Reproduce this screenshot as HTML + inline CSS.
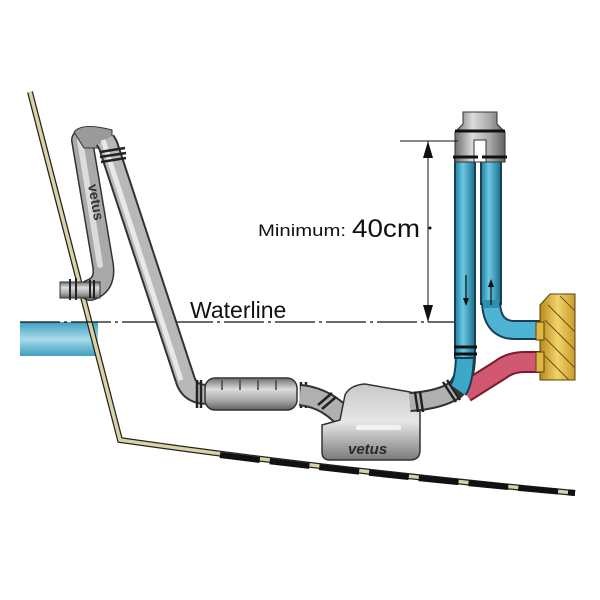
<!DOCTYPE html>
<html><head><style>html,body{margin:0;padding:0;background:#fff}svg{display:block}</style></head>
<body>
<svg width="600" height="600" viewBox="0 0 600 600" xmlns="http://www.w3.org/2000/svg">
<defs>
<linearGradient id="gv" x1="0" x2="1" y1="0" y2="0"><stop offset="0" stop-color="#6e6e70"/><stop offset="0.35" stop-color="#dcdcdc"/><stop offset="0.7" stop-color="#a8a8aa"/><stop offset="1" stop-color="#606062"/></linearGradient>
<linearGradient id="gh" x1="0" x2="0" y1="0" y2="1"><stop offset="0" stop-color="#6e6e70"/><stop offset="0.35" stop-color="#dcdcdc"/><stop offset="0.7" stop-color="#a8a8aa"/><stop offset="1" stop-color="#606062"/></linearGradient>
<linearGradient id="bv" x1="0" x2="1"><stop offset="0" stop-color="#1f7e9e"/><stop offset="0.4" stop-color="#6cc8e2"/><stop offset="1" stop-color="#1a6f8d"/></linearGradient>
<linearGradient id="bh" x1="0" x2="0" y1="0" y2="1"><stop offset="0" stop-color="#1f7e9e"/><stop offset="0.4" stop-color="#6cc8e2"/><stop offset="1" stop-color="#1a6f8d"/></linearGradient>
<linearGradient id="wt" x1="0" x2="0" y1="0" y2="1"><stop offset="0" stop-color="#3d9fbf"/><stop offset="0.5" stop-color="#a9dbe9"/><stop offset="1" stop-color="#3d9fbf"/></linearGradient>
<linearGradient id="gold" x1="0" x2="1"><stop offset="0" stop-color="#b88a1c"/><stop offset="0.5" stop-color="#f3d36a"/><stop offset="1" stop-color="#c99b2a"/></linearGradient>
<linearGradient id="box" x1="0" x2="0" y1="0" y2="1"><stop offset="0" stop-color="#c8c8ca"/><stop offset="0.5" stop-color="#e6e6e6"/><stop offset="1" stop-color="#7a7a7c"/></linearGradient>
</defs>

<!-- water -->
<rect x="20" y="322" width="78" height="34" fill="url(#wt)"/>

<!-- hull -->
<path d="M30 92 L120 440 Q330 470 575 493" fill="none" stroke="#222" stroke-width="6"/>
<path d="M30 92 L120 440 Q330 470 575 493" fill="none" stroke="#d9d2a6" stroke-width="3.5"/>
<path d="M220 455 Q400 478 575 493" fill="none" stroke="#111" stroke-width="6" stroke-dasharray="40 10"/>

<!-- waterline -->
<path d="M20 322 H460" stroke="#111" stroke-width="1.2" stroke-dasharray="40 4 3 4"/>

<!-- left waterlock tube -->
<path d="M82 140 L103 265 Q106 285 90 290" fill="none" stroke="#333" stroke-width="22" stroke-linecap="round"/>
<path d="M82 140 L103 265 Q106 285 90 290" fill="none" stroke="#a9a9ab" stroke-width="19" stroke-linecap="round"/>
<path d="M80 140 L100 265" fill="none" stroke="#dcdcdc" stroke-width="6" stroke-linecap="round"/>
<rect x="60" y="282" width="40" height="16" fill="url(#gh)" stroke="#333"/>
<g stroke="#222" stroke-width="2"><line x1="70" y1="279" x2="70" y2="300"/><line x1="76" y1="278" x2="76" y2="300"/><line x1="90" y1="280" x2="90" y2="298"/><line x1="94" y1="280" x2="94" y2="298"/></g>
<path d="M74 132 Q82 122 112 130 L112 148 L84 148 Z" fill="#9a9a9c" stroke="#333"/>
<!-- main riser -->
<path d="M105 140 L108 145 L186 382 Q192 396 210 394" fill="none" stroke="#333" stroke-width="21" stroke-linejoin="round"/>
<path d="M105 140 L108 145 L186 382 Q192 396 210 394" fill="none" stroke="#b8b8ba" stroke-width="17" stroke-linejoin="round"/>
<path d="M103 140 L181 380" stroke="#e8e8e8" stroke-width="5"/>
<g stroke="#222" stroke-width="2.5"><line x1="100" y1="152" x2="125" y2="148"/><line x1="100" y1="157" x2="126" y2="153"/><line x1="101" y1="162" x2="126" y2="158"/></g>
<text x="0" y="0" transform="translate(88,185) rotate(80)" font-family="Liberation Sans, sans-serif" font-weight="bold" font-size="14" fill="#333">vetus</text>

<!-- bellows silencer -->
<rect x="205" y="378" width="92" height="32" rx="10" fill="url(#gh)" stroke="#333" stroke-width="1.5"/>
<g stroke="#444" stroke-width="1.5"><line x1="222" y1="380" x2="222" y2="390"/><line x1="240" y1="380" x2="240" y2="390"/><line x1="258" y1="380" x2="258" y2="390"/><line x1="276" y1="380" x2="276" y2="390"/></g>
<g stroke="#222" stroke-width="2.5"><line x1="197" y1="380" x2="197" y2="408"/><line x1="201" y1="380" x2="201" y2="408"/><line x1="301" y1="382" x2="301" y2="408"/><line x1="306" y1="382" x2="306" y2="408"/></g>
<path d="M300 395 Q330 398 350 425" fill="none" stroke="#333" stroke-width="22"/>
<path d="M300 395 Q330 398 350 425" fill="none" stroke="#b0b0b2" stroke-width="18"/>
<g stroke="#222" stroke-width="2.5"><line x1="318" y1="405" x2="332" y2="393"/><line x1="322" y1="409" x2="336" y2="397"/></g>

<!-- waterlock box -->
<path d="M345 395 Q350 385 365 384 L410 392 L420 400 L420 450 Q420 460 410 460 L330 460 Q322 460 322 452 L322 425 L340 420 Z" fill="url(#box)" stroke="#333" stroke-width="1.5"/>
<rect x="356" y="425" width="45" height="5" rx="2" fill="#f2f2f2"/>
<text x="348" y="454" font-family="Liberation Sans, sans-serif" font-weight="bold" font-style="italic" font-size="15" fill="#2a2a2a">vetus</text>

<path d="M410 402 Q440 400 455 390 Q466 380 466 355" fill="none" stroke="#333" stroke-width="20"/>
<path d="M410 402 Q440 400 455 390" fill="none" stroke="#b0b0b2" stroke-width="16"/>
<g stroke="#222" stroke-width="2.5"><line x1="415" y1="392" x2="418" y2="412"/><line x1="420" y1="392" x2="423" y2="412"/><line x1="443" y1="382" x2="456" y2="402"/><line x1="447" y1="380" x2="460" y2="400"/></g>

<!-- red exhaust -->
<path d="M465 392 L500 370 Q510 362 525 362 L545 362" fill="none" stroke="#7a1a2a" stroke-width="22"/>
<path d="M465 392 L500 370 Q510 362 525 362 L545 362" fill="none" stroke="#d05870" stroke-width="18"/>

<!-- blue pipes -->
<path d="M465 350 Q465 380 458 390" fill="none" stroke="#173f55" stroke-width="20"/>
<path d="M465 350 Q465 380 458 390" fill="none" stroke="#3ea8c8" stroke-width="16"/>
<rect x="455" y="158" width="20" height="200" fill="url(#bv)" stroke="#173f55" stroke-width="2"/>
<path d="M491 300 Q491 330 515 330 L545 330" fill="none" stroke="#173f55" stroke-width="20"/>
<path d="M491 300 Q491 330 515 330 L545 330" fill="none" stroke="#4fb3d3" stroke-width="16"/>
<rect x="481" y="158" width="20" height="146" fill="url(#bv)" stroke="#173f55" stroke-width="2"/>
<rect x="483" y="300" width="16" height="8" fill="#2f8fb0"/>
<path d="M466 275 V300" stroke="#111" stroke-width="1.2"/><path d="M463 298 L466 306 L469 298 Z" fill="#111"/>
<path d="M491 285 V305" stroke="#111" stroke-width="1.2"/><path d="M488 287 L491 279 L494 287 Z" fill="#111"/>
<g stroke="#111" stroke-width="3"><line x1="454" y1="347" x2="477" y2="347"/><line x1="454" y1="354" x2="477" y2="354"/></g>

<!-- top fitting -->
<path d="M463 112 H497 V124 L505 132 V162 H455 V132 L463 124 Z" fill="url(#gv)" stroke="#333"/>
<rect x="474" y="140" width="12" height="22" fill="#fff" stroke="#333"/>
<g stroke="#111" stroke-width="3"><line x1="453" y1="157" x2="478" y2="157"/><line x1="482" y1="157" x2="507" y2="157"/><line x1="455" y1="131" x2="505" y2="131"/></g>

<!-- engine block -->
<path d="M550 294 H575 V380 H540 V305 Z" fill="url(#gold)" stroke="#5a4310"/>
<rect x="536" y="322" width="8" height="18" fill="#e0b640" stroke="#5a4310"/>
<rect x="536" y="352" width="8" height="20" fill="#e0b640" stroke="#5a4310"/>
<g stroke="#6a5215" stroke-width="1"><line x1="548" y1="305" x2="575" y2="332"/><line x1="545" y1="320" x2="575" y2="350"/><line x1="545" y1="338" x2="575" y2="368"/><line x1="545" y1="356" x2="569" y2="380"/><line x1="560" y1="296" x2="575" y2="311"/></g>

<!-- dimension -->
<path d="M400 141 H458" stroke="#111" stroke-width="1"/>
<path d="M428 141 V322" stroke="#111" stroke-width="1"/>
<path d="M423 158 L428 141 L433 158 Z" fill="#111"/>
<path d="M423 305 L428 322 L433 305 Z" fill="#111"/>
<circle cx="430" cy="228" r="1.5" fill="#111"/>

<text x="258" y="236" font-family="Liberation Sans, sans-serif" font-size="17" fill="#111" textLength="88" lengthAdjust="spacingAndGlyphs">Minimum:</text>
<text x="352" y="237" font-family="Liberation Sans, sans-serif" font-size="25" fill="#111" textLength="68" lengthAdjust="spacingAndGlyphs">40cm</text>
<text x="190" y="318" font-family="Liberation Sans, sans-serif" font-size="23" fill="#111">Waterline</text>
</svg>
</body></html>
